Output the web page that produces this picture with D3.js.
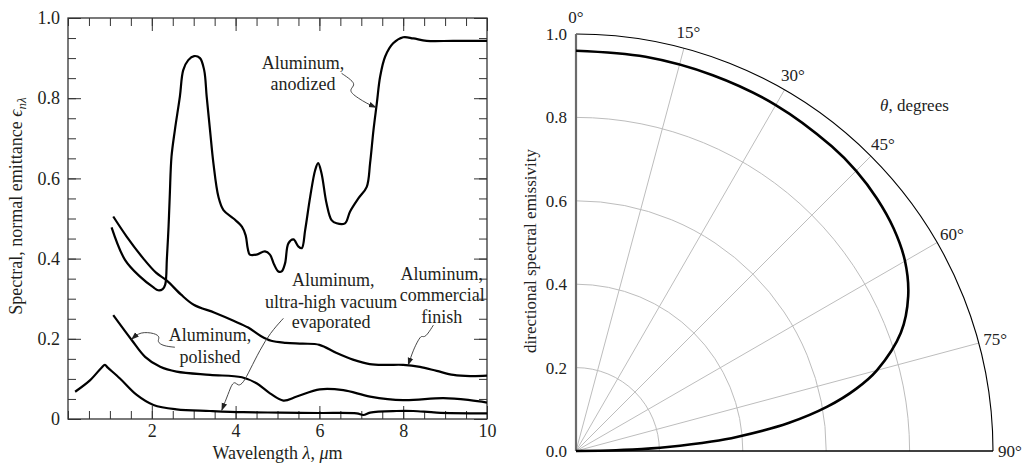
<!DOCTYPE html>
<html><head><meta charset="utf-8">
<script src="https://cdn.jsdelivr.net/npm/d3@7"></script>
<style>
body{margin:0;background:#fff}
svg{display:block}
text{font-family:"Liberation Serif","Times New Roman",serif}
</style>
</head><body>
<svg id="c" width="1022" height="463"></svg>
<script>
// ---------- Left chart data (wavelength µm, normal spectral emittance) ----------
const anodizedWl = [1.04,1.36,1.72,2.04,2.15,2.26,2.32,2.36,2.40,2.43,2.47,2.55,2.67,2.75,2.87,3.01,3.15,3.25,3.31,3.39,3.47,3.59,3.71,3.95,4.15,4.24,4.29,4.34,4.5,4.7,4.82,4.92,5.02,5.10,5.18,5.26,5.38,5.5,5.58,5.66,5.78,5.9,5.97,6.05,6.17,6.29,6.41,6.61,6.73,6.93,7.13,7.21,7.29,7.37,7.45,7.57,7.76,8.0,8.24,8.56,9.19,10.0];
const anodizedE  = [0.478,0.397,0.355,0.328,0.321,0.324,0.335,0.40,0.48,0.56,0.654,0.72,0.804,0.87,0.895,0.905,0.90,0.87,0.804,0.72,0.638,0.554,0.521,0.50,0.48,0.458,0.425,0.410,0.410,0.418,0.410,0.385,0.368,0.368,0.388,0.438,0.448,0.430,0.426,0.471,0.554,0.621,0.638,0.613,0.538,0.496,0.488,0.488,0.517,0.550,0.579,0.638,0.72,0.787,0.854,0.904,0.937,0.952,0.949,0.943,0.943,0.943];

const commercialWl = [1.08,1.4,1.8,2.1,2.36,2.7,3.0,3.5,3.95,4.3,4.6,4.85,5.2,5.6,6.0,6.4,6.8,7.2,7.6,8.0,8.4,8.8,9.2,9.6,10.0];
const commercialE  = [0.505,0.455,0.40,0.365,0.345,0.31,0.285,0.265,0.245,0.228,0.207,0.195,0.19,0.188,0.185,0.165,0.148,0.137,0.135,0.135,0.13,0.12,0.11,0.107,0.108];

const polishedWl = [1.08,1.52,1.84,2.2,2.59,3.39,4.15,4.5,4.82,5.14,5.46,6.01,6.57,7.21,8.0,8.96,9.59,10.0];
const polishedE  = [0.259,0.197,0.155,0.13,0.118,0.11,0.104,0.089,0.064,0.046,0.056,0.074,0.072,0.056,0.047,0.052,0.047,0.041];

const uhvWl = [0.17,0.53,0.80,0.88,0.95,1.24,1.64,2.04,2.59,3.39,4.18,5.06,6.0,6.89,7.05,7.21,7.84,8.24,8.8,10.0];
const uhvE  = [0.068,0.097,0.128,0.135,0.128,0.101,0.06,0.035,0.024,0.02,0.017,0.016,0.015,0.014,0.010,0.016,0.02,0.02,0.016,0.014];

const xMajorTicks = [2,4,6,8,10];
const yMajorTicks = [0,0.2,0.4,0.6,0.8,1.0];

// annotation labels [wl, e, text]
const labelWl   = [5.61,5.61, 6.33,6.28,6.28, 3.39,3.39, 8.92,8.93,8.92];
const labelE    = [0.889,0.835, 0.347,0.293,0.243, 0.209,0.155, 0.363,0.309,0.255];
const labelText = ["Aluminum,","anodized","Aluminum,","ultra-high vacuum","evaporated","Aluminum,","polished","Aluminum,","commercial","finish"];

// leader lines (wl, e)
const leaderAnodWl = [6.53,6.77,6.85,6.73,6.77,6.93,7.13,7.35];
const leaderAnodE  = [0.862,0.845,0.833,0.822,0.812,0.80,0.787,0.777];
const leaderPolWl  = [2.55,2.27,2.12,2.2,2.08,1.72,1.52];
const leaderPolE   = [0.179,0.182,0.193,0.204,0.214,0.218,0.199];
const leaderUhvWl  = [5.14,4.82,4.58,4.34,4.18,4.06,3.99,3.91,3.83,3.67];
const leaderUhvE   = [0.251,0.214,0.172,0.122,0.089,0.082,0.093,0.087,0.064,0.022];
const leaderComWl  = [8.72,8.52,8.44,8.36,8.24,8.12];
const leaderComE   = [0.234,0.201,0.209,0.197,0.172,0.135];

// ---------- Right chart data (polar angle deg, directional spectral emissivity) ----------
const thetaDeg = [0,10,20,30,40,45,50,55,60,65,70,75,77.5,80,82.5,85,86,87.5,88,89,90];
const emissivity = [0.960,0.960,0.959,0.958,0.954,0.950,0.942,0.930,0.911,0.879,0.829,0.747,0.688,0.612,0.514,0.387,0.326,0.220,0.181,0.096,0];
const radialTicks = [0,0.2,0.4,0.6,0.8,1.0];
const angleTicks = [0,15,30,45,60,75,90];

const FONT = "'Liberation Serif','Times New Roman',serif";
const svg = d3.select("#c");
const zip = (a,b)=>a.map((v,i)=>[v,b[i]]);

// ===== LEFT CHART =====
const L = {left:68,right:487,top:18,bottom:419};
const x = d3.scaleLinear().domain([0,10]).range([L.left,L.right]);
const y = d3.scaleLinear().domain([0,1]).range([L.bottom,L.top]);
const txtCol = "#231f20";
const FS = "18px";
const g = svg.append("g");

const minorX = d3.range(0,10.01,0.5);
const minorY = d3.range(0,1.001,0.05);

function styleAxis(sel){
  sel.attr("font-family",FONT);
  sel.select(".domain").remove();
  sel.selectAll("line").attr("stroke","#333").attr("stroke-width",1);
  sel.selectAll("text").attr("fill",txtCol).attr("font-family",FONT).style("font-size",FS);
}
// minor ticks
g.append("g").attr("transform",`translate(0,${L.bottom})`).call(d3.axisBottom(x).tickValues(minorX).tickSize(-8).tickFormat("")).call(styleAxis);
g.append("g").attr("transform",`translate(0,${L.top})`).call(d3.axisTop(x).tickValues(minorX).tickSize(-8).tickFormat("")).call(styleAxis);
g.append("g").attr("transform",`translate(${L.left},0)`).call(d3.axisLeft(y).tickValues(minorY).tickSize(-8).tickFormat("")).call(styleAxis);
g.append("g").attr("transform",`translate(${L.right},0)`).call(d3.axisRight(y).tickValues(minorY).tickSize(-8).tickFormat("")).call(styleAxis);
// major ticks + labels
g.append("g").attr("transform",`translate(0,${L.bottom})`).call(d3.axisBottom(x).tickValues(xMajorTicks).tickSize(-13).tickPadding(5).tickFormat(d3.format("d"))).call(styleAxis);
g.append("g").attr("transform",`translate(0,${L.top})`).call(d3.axisTop(x).tickValues(xMajorTicks).tickSize(-13).tickFormat("")).call(styleAxis);
g.append("g").attr("transform",`translate(${L.left},0)`).call(d3.axisLeft(y).tickValues(yMajorTicks).tickSize(-13).tickPadding(8).tickFormat(d=>d===0?"0":d.toFixed(1))).call(styleAxis);
g.append("g").attr("transform",`translate(${L.right},0)`).call(d3.axisRight(y).tickValues(yMajorTicks).tickSize(-13).tickFormat("")).call(styleAxis);
// frame
g.append("rect").attr("x",x(0)).attr("y",y(1)).attr("width",x(10)-x(0)).attr("height",y(0)-y(1))
  .attr("fill","none").attr("stroke","#333").attr("stroke-width",1.3);

// curves
const lineL = d3.line().x(d=>x(d[0])).y(d=>y(d[1])).curve(d3.curveCatmullRom.alpha(0.5));
[[anodizedWl,anodizedE],[commercialWl,commercialE],[polishedWl,polishedE],[uhvWl,uhvE]].forEach(([a,b])=>{
  g.append("path").datum(zip(a,b)).attr("d",lineL).attr("fill","none").attr("stroke","#000").attr("stroke-width",2.2).attr("stroke-linejoin","round");
});

// arrow marker
svg.append("defs").append("marker").attr("id","arr").attr("viewBox","0 0 10 10").attr("refX",9).attr("refY",5)
  .attr("markerWidth",8).attr("markerHeight",8).attr("markerUnits","userSpaceOnUse").attr("orient","auto")
  .append("path").attr("d","M0,1.5 L10,5 L0,8.5 z").attr("fill","#222");

const lineLead = d3.line().x(d=>x(d[0])).y(d=>y(d[1])).curve(d3.curveBasis);
[[leaderAnodWl,leaderAnodE],[leaderPolWl,leaderPolE],[leaderUhvWl,leaderUhvE],[leaderComWl,leaderComE]].forEach(([a,b])=>{
  g.append("path").datum(zip(a,b)).attr("d",lineLead).attr("fill","none").attr("stroke","#333").attr("stroke-width",0.9).attr("marker-end","url(#arr)");
});

// labels
g.selectAll("text.lab").data(labelText).enter().append("text").attr("class","lab")
  .attr("x",(d,i)=>x(labelWl[i])).attr("y",(d,i)=>y(labelE[i])).attr("dy","0.35em")
  .attr("text-anchor","middle").attr("fill",txtCol).attr("font-family",FONT).style("font-size",FS).text(d=>d);

// axis titles
const xt = g.append("text").attr("x",(L.left+L.right)/2).attr("y",453).attr("dy","0.35em").attr("text-anchor","middle")
  .attr("fill",txtCol).attr("font-family",FONT).style("font-size",FS);
xt.append("tspan").text("Wavelength  ");
xt.append("tspan").style("font-style","italic").text("λ");
xt.append("tspan").text(", ");
xt.append("tspan").style("font-style","italic").text("μ");
xt.append("tspan").text("m");

const yt = g.append("text").attr("transform","translate(16,206) rotate(-90)").attr("dy","0.35em").attr("text-anchor","middle")
  .attr("fill",txtCol).attr("font-family",FONT).style("font-size",FS);
yt.append("tspan").text("Spectral, normal emittance  ");
yt.append("tspan").style("font-style","italic").text("ϵ");
yt.append("tspan").style("font-style","italic").style("font-size","13px").attr("dy","4").text("nλ");

// ===== RIGHT CHART (quarter polar) =====
const cx = 576, cy = 451, R = 417;
const r = d3.scaleLinear().domain([0,1]).range([0,R]);
const gp = svg.append("g").attr("transform",`translate(${cx},${cy})`).attr("font-family",FONT);
const rad = d=>d*Math.PI/180;
const pcol = "#222";

// circular grid
radialTicks.filter(v=>v>0 && v<1).forEach(v=>{
  const p = d3.path(); p.moveTo(0,-r(v)); p.arc(0,0,r(v),-Math.PI/2,0);
  gp.append("path").attr("d",p.toString()).attr("fill","none").attr("stroke","#bdbdbd").attr("stroke-width",1);
});
// spokes
angleTicks.filter(a=>a>0 && a<90).forEach(a=>{
  gp.append("line").attr("x1",0).attr("y1",0).attr("x2",r(1)*Math.sin(rad(a))).attr("y2",-r(1)*Math.cos(rad(a)))
    .attr("stroke","#bdbdbd").attr("stroke-width",1);
});
// outer arc
{ const p = d3.path(); p.moveTo(0,-r(1)); p.arc(0,0,r(1),-Math.PI/2,0);
  gp.append("path").attr("d",p.toString()).attr("fill","none").attr("stroke","#000").attr("stroke-width",1.1); }
// bottom line (90°)
gp.append("line").attr("x1",0).attr("y1",0).attr("x2",r(1)).attr("y2",0).attr("stroke","#000").attr("stroke-width",1.5);
// vertical axis (0°)
gp.append("line").attr("x1",0).attr("y1",0).attr("x2",0).attr("y2",-r(1)).attr("stroke","#6b6b6b").attr("stroke-width",2.2);

// emissivity curve
const lr = d3.lineRadial().angle(d=>rad(d[0])).radius(d=>r(d[1])).curve(d3.curveCatmullRom.alpha(0.5));
gp.append("path").datum(zip(thetaDeg,emissivity)).attr("d",lr).attr("fill","none").attr("stroke","#000").attr("stroke-width",2.6);

// radial tick labels
gp.selectAll("text.rt").data(radialTicks).enter().append("text").attr("class","rt")
  .attr("x",-9).attr("y",d=>-r(d)).attr("dy","0.35em").attr("text-anchor","end")
  .attr("fill",pcol).attr("font-family",FONT).style("font-size","17px").text(d=>d.toFixed(1));
// angle labels
gp.selectAll("text.at").data(angleTicks).enter().append("text").attr("class","at")
  .attr("x",d=>(r(1)+17)*Math.sin(rad(d))).attr("y",d=>-(r(1)+17)*Math.cos(rad(d))).attr("dy","0.35em")
  .attr("text-anchor","middle").attr("fill",pcol).attr("font-family",FONT).style("font-size","17px").text(d=>d+"°");
// theta label
{ const t = gp.append("text").attr("x",r(1.16)*Math.sin(rad(44.4))).attr("y",-r(1.16)*Math.cos(rad(44.4))).attr("dy","0.35em")
    .attr("text-anchor","middle").attr("fill",pcol).attr("font-family",FONT).style("font-size","17px");
  t.append("tspan").style("font-style","italic").text("θ");
  t.append("tspan").text(", degrees"); }
// y title
svg.append("text").attr("transform","translate(530,251) rotate(-90)").attr("dy","0.35em").attr("text-anchor","middle")
  .attr("fill",pcol).attr("font-family",FONT).style("font-size","17px").text("directional spectral emissivity");
</script>
</body></html>
